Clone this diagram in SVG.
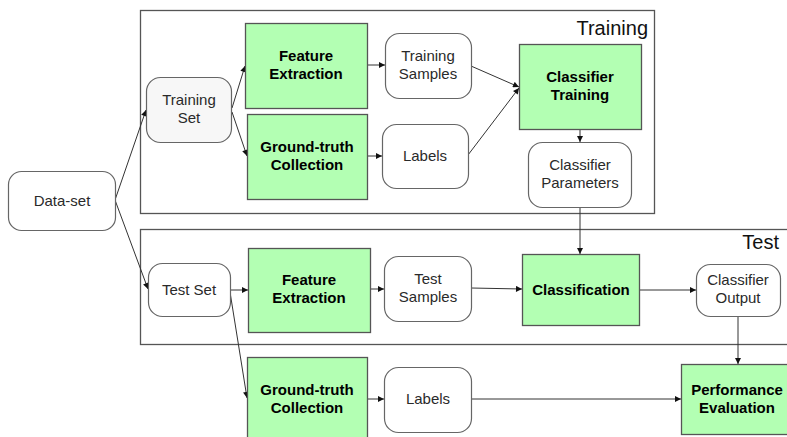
<svg xmlns="http://www.w3.org/2000/svg" width="787" height="437" viewBox="0 0 787 437">
  <style>
    .frame { fill: #ffffff; stroke: #555555; stroke-width: 1.3; }
    .rnode { fill: #ffffff; stroke: #666666; stroke-width: 1.2; }
    .rnode.grey { fill: #f7f7f7; }
    .proc { fill: #b3ffb3; stroke: #555555; stroke-width: 1.3; }
    .t { font-family: "Liberation Sans", Arial, sans-serif; font-size: 15px; fill: #2a2a2a; text-anchor: middle; }
    .b { font-weight: bold; fill: #000000; }
    .title { font-family: "Liberation Sans", Arial, sans-serif; font-size: 20px; fill: #111111; text-anchor: end; }
    .edge { fill: none; stroke: #333333; stroke-width: 1; marker-end: url(#arrow); }
  </style>
  <defs>
    <marker id="arrow" viewBox="0 0 10 10" refX="10" refY="5" markerWidth="8" markerHeight="6" markerUnits="userSpaceOnUse" orient="auto">
      <path d="M0,0 L10,5 L0,10 z" fill="#111111"/>
    </marker>
  </defs>
  <rect width="787" height="437" fill="#ffffff"/>

  <!-- stage frames -->
  <g id="training-stage">
    <rect class="frame" x="140.5" y="10.5" width="514" height="203"/>
    <text class="title" x="648" y="35">Training</text>
  </g>
  <g id="test-stage">
    <rect class="frame" x="140.5" y="229.5" width="660" height="115"/>
    <text class="title" x="779" y="249">Test</text>
  </g>

  <!-- connectors -->
  <g id="connectors">
    <path class="edge" d="M115,200 L146,110"/>
    <path class="edge" d="M115,200 L148,289"/>
    <path class="edge" d="M232,108 L245,66"/>
    <path class="edge" d="M232,112 L247,156"/>
    <path class="edge" d="M367,65 L385,65"/>
    <path class="edge" d="M367,156 L382,156"/>
    <path class="edge" d="M471,66 L519,87"/>
    <path class="edge" d="M468,155 L519,88"/>
    <path class="edge" d="M580,129 L580,142"/>
    <path class="edge" d="M580,207 L580,254"/>
    <path class="edge" d="M230,290 L248,290"/>
    <path class="edge" d="M230,292 L247,398"/>
    <path class="edge" d="M370,289 L384,289"/>
    <path class="edge" d="M367,399 L384,399"/>
    <path class="edge" d="M471,288 L522,289"/>
    <path class="edge" d="M639,290 L696,290"/>
    <path class="edge" d="M738,316 L738,364"/>
    <path class="edge" d="M471,399 L681,399"/>
  </g>

  <!-- nodes -->
  <g id="dataset">
    <rect class="rnode" x="8.5" y="171.5" width="107" height="59" rx="13"/>
    <text class="t" x="62" y="206">Data-set</text>
  </g>
  <g id="training-set">
    <rect class="rnode grey" x="146.5" y="77.5" width="85" height="65" rx="14"/>
    <text class="t" x="189" y="105">Training</text>
    <text class="t" x="189" y="123">Set</text>
  </g>
  <g id="feature-extraction-train">
    <rect class="proc" x="245.5" y="23.5" width="122" height="85"/>
    <text class="t b" x="306" y="61">Feature</text>
    <text class="t b" x="306" y="79">Extraction</text>
  </g>
  <g id="ground-truth-train">
    <rect class="proc" x="247.5" y="114.5" width="120" height="85"/>
    <text class="t b" x="307" y="152">Ground-truth</text>
    <text class="t b" x="307" y="170">Collection</text>
  </g>
  <g id="training-samples">
    <rect class="rnode" x="385.5" y="33.5" width="86" height="65" rx="14"/>
    <text class="t" x="428" y="61">Training</text>
    <text class="t" x="428" y="79">Samples</text>
  </g>
  <g id="labels-train">
    <rect class="rnode" x="382.5" y="124.5" width="86" height="64" rx="14"/>
    <text class="t" x="425" y="161">Labels</text>
  </g>
  <g id="classifier-training">
    <rect class="proc" x="519.5" y="44.5" width="122" height="85"/>
    <text class="t b" x="580" y="82">Classifier</text>
    <text class="t b" x="580" y="100">Training</text>
  </g>
  <g id="classifier-parameters">
    <rect class="rnode" x="528.5" y="142.5" width="103" height="65" rx="14"/>
    <text class="t" x="580" y="170">Classifier</text>
    <text class="t" x="580" y="188">Parameters</text>
  </g>
  <g id="test-set">
    <rect class="rnode" x="148.5" y="263.5" width="82" height="53" rx="14"/>
    <text class="t" x="189" y="295">Test Set</text>
  </g>
  <g id="feature-extraction-test">
    <rect class="proc" x="248.5" y="248.5" width="122" height="84"/>
    <text class="t b" x="309" y="285">Feature</text>
    <text class="t b" x="309" y="303">Extraction</text>
  </g>
  <g id="test-samples">
    <rect class="rnode" x="384.5" y="256.5" width="87" height="65" rx="14"/>
    <text class="t" x="428" y="284">Test</text>
    <text class="t" x="428" y="302">Samples</text>
  </g>
  <g id="classification">
    <rect class="proc" x="522.5" y="254.5" width="117" height="71"/>
    <text class="t b" x="581" y="295">Classification</text>
  </g>
  <g id="classifier-output">
    <rect class="rnode" x="696.5" y="264.5" width="84" height="52" rx="14"/>
    <text class="t" x="738" y="285">Classifier</text>
    <text class="t" x="738" y="303">Output</text>
  </g>
  <g id="ground-truth-test">
    <rect class="proc" x="247.5" y="357.5" width="120" height="85"/>
    <text class="t b" x="307" y="395">Ground-truth</text>
    <text class="t b" x="307" y="413">Collection</text>
  </g>
  <g id="labels-test">
    <rect class="rnode" x="384.5" y="367.5" width="87" height="65" rx="14"/>
    <text class="t" x="428" y="404">Labels</text>
  </g>
  <g id="performance-evaluation">
    <rect class="proc" x="681.5" y="364.5" width="112" height="70"/>
    <text class="t b" x="737" y="395">Performance</text>
    <text class="t b" x="737" y="413">Evaluation</text>
  </g>
</svg>
